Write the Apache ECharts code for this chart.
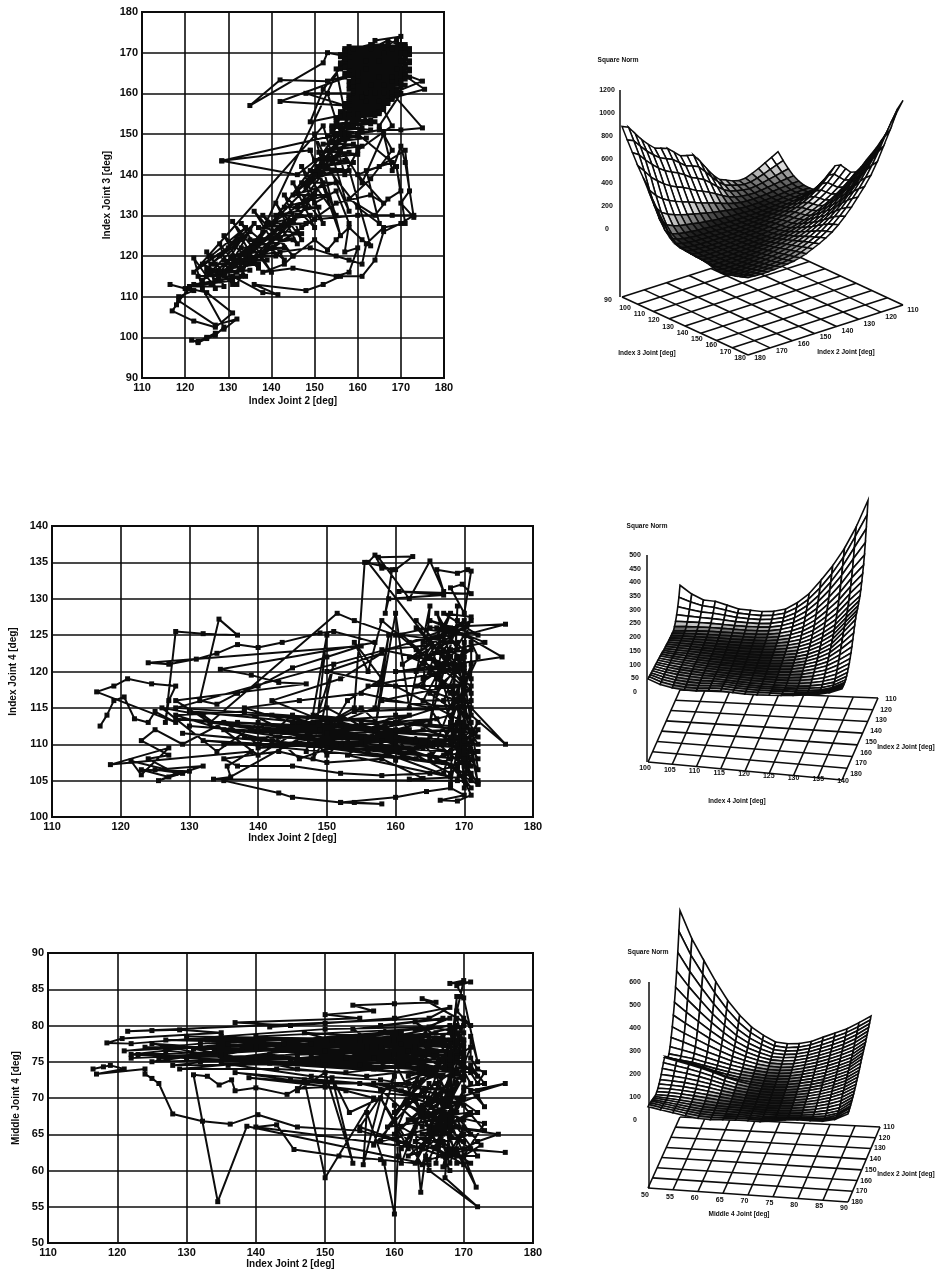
<!DOCTYPE html>
<html><head><meta charset="utf-8"><style>html,body{margin:0;padding:0;background:#fff}#c{width:936px;height:1271px}</style>
<script src="https://cdn.jsdelivr.net/npm/echarts@6/dist/echarts.min.js"></script></head><body><div id="c"></div><script>
const indexJ2VsJ3=[[116.5,113],[120,112],[122,111.5],[118.5,110],[118,108],[117,106.5],[122,104],[127,102.5],[131,106],[125,111],[121,112],[118.5,109],[127,103],[132,104.5],[129,102],[127,101],[125,100],[123,99],[121.5,99.3],[123,98.7],[125,99.7],[127,100.5],[129,102.5],[124,112],[122,119.5],[127,112],[125,121],[131,113],[128,123],[134,115],[129,125],[137,117],[131,128.5],[140,116],[133,128],[143,119],[136,131],[145,120],[138,130],[146,123],[141,133],[147,124],[143,135],[150,127],[145,138],[152,128],[147,142],[155,130],[149,146],[156,125],[150,150],[158,131],[152,152],[122,116],[135,126],[124,114],[137,124],[126,113],[140,125],[129,115],[142,127],[132,119],[146,130],[136,122],[150,135],[140,128],[154,143],[146,136],[157,150],[150,140],[160,155],[154,148],[162,160],[131,115],[138,111],[141.5,110.5],[136,113],[148,111.5],[152,113],[156,115],[161,115],[164,119],[166,126],[170,128],[173,130],[168,130],[160,130],[150,129],[147,127],[155,133],[163,135],[166,133],[160,140],[165,142],[171,146],[172,136],[170,133],[173,129.5],[171,143],[170,147],[168,141],[166,150],[161,138],[157,145],[163,122.5],[161,124],[158,127],[155,124],[153,121.5],[150,124],[145,120],[143,118],[138,116],[145,117],[155,115],[158,116],[160,122],[157,121],[158,128],[155,136],[150,133],[148,137],[152,143],[160,132],[165,128],[162,141],[168,143],[160,150],[165,151],[170,151],[175,151.5],[168,160],[175,163],[170,165],[175.5,161],[165,158],[168,152],[160,146],[157,140],[155,148],[158,155],[149,153],[152,161],[158,169],[153,170],[152,167.5],[135,157],[142,163.3],[153,163],[160,165],[142,158],[157,157],[148,160],[162,160],[153,160],[156,150],[128.5,143.4],[149,146],[128.5,143.4],[146,140],[158,150],[155,166],[171,172],[157,171],[171,171],[157,170],[172,170],[156,169],[171,169],[157,168],[172,168],[156,167],[171,167],[156,166],[172,166],[157,165],[171,165],[157,164],[172,164],[158,163],[170,163],[158,162],[171,162],[158,161],[169,161],[159,160],[168,160],[158,159],[168,159],[158,158],[167,158],[157,157],[166,157],[158,156],[166,156],[156,155],[165,155],[155,154],[164,153],[154,152],[163,151],[155,150],[162,149],[154,148],[161,147],[153,146],[160,145],[152,144],[159,143],[151,142],[158,141],[150,140],[164,173],[170,174],[170,172],[163,171],[167,173],[172,171],[166,170],[160,163],[162,168],[170,160],[165,152],[168,146],[163,139],[158,134],[164,130],[167,134],[170,136],[169,142],[171,128],[166,127],[162,123],[161,118],[158,119],[155,120],[149,122],[142,121],[135,120],[128,116],[124,118],[130,122],[126,118],[133,124],[127,114],[125,117],[132,113]];
const indexJ2VsJ3Dense=[[158,171.5],[171,171.5],[157,170.5],[172,170.5],[156,169.5],[172,169.5],[157,168.5],[171,168.5],[156,167.5],[172,167.5],[157,166.5],[171,166.5],[158,165.5],[172,165.5],[158,164.5],[171,164.5],[159,163.5],[171,163.5],[159,162.5],[170,162.5],[159,161.5],[170,161.5],[159,160.5],[169,160.5],[158,159.5],[169,159.5],[158,158.5],[168,158.5],[157,157.5],[167,157.5],[157,156.5],[166,156.5],[156,155.5],[165,155.5],[156,154.5],[164,154.5],[155,153.5],[163,153.5],[155,152.5],[163,152.5],[154,151.5],[161,151.5],[154,150.5],[161,150.5],[153,149.5],[160,149.5],[152,147.5],[159,147.5],[151,145.5],[158,145.5],[150,143.5],[157,143.5],[149,141],[156,141],[147,138],[155,138],[145,135],[153,135],[143,132],[151,132],[141,130],[149,130],[139,128],[148,128],[137,127],[147,125.5],[135,124],[145,124],[133,122],[143,122],[131,120],[141,120],[129,119],[139,119],[127,118],[137,118],[125,116],[135,116.5],[123,115],[133,115],[122,113],[131,114],[121,112.5],[129,112.5],[126,120],[134,127],[128,120],[136,128],[130,117],[138,126],[132,116],[140,122],[134,118],[144,128],[136,119],[146,126],[138,121],[148,132],[142,124],[152,138],[146,132],[156,146],[149,139],[159,152],[162,158],[155,144],[164,160],[160,150],[166,162],[164,155],[168,163],[170,170],[159,171],[163,172],[167,172],[169,173],[171,170],[165,168],[168,171],[162,166],[170,168],[165,164],[169,166],[163,162],[168,164],[161,159],[166,160]];
const indexJ2VsJ4=[[117,112.5],[118,114],[119,116],[120.5,116.5],[122,113.5],[124,113],[125,114.5],[128,113],[116.5,117.2],[119,118],[121,119],[124.5,118.3],[128,118],[127,116],[126.5,113],[128,125.5],[132,125.2],[137,125],[134.3,127.2],[131.5,116],[134,115.5],[137,117],[140,118],[145,120.5],[150,122],[155,123.5],[124,121.2],[127,121],[131,121.7],[134,122.5],[137,123.7],[140,123.3],[143.5,124],[149,125.3],[151,125.5],[157,124],[134.5,120.3],[139,119.5],[143,118.5],[147,118.3],[128,116],[133,113],[151.5,128],[154,127],[160,125],[165,126],[176,126.5],[170,125],[175.5,122],[165,120.5],[170,116],[176,110],[171,114],[171,124],[172,122],[170,118],[156,135],[157,136],[158,134.2],[160,134],[162.5,135.8],[157.5,135.7],[162,130],[165,135.2],[167,131],[166,134],[169,133.5],[170.5,134],[171,133.8],[170,128],[168,131.5],[169.7,132],[171,130.7],[160.5,131],[167,130.5],[159,130],[158.5,128],[159.5,134],[158,134.5],[155.5,135],[154,115],[135,105],[143,103.3],[145,102.7],[152,102],[154,102],[158,101.8],[152,102],[160,102.7],[164.5,103.5],[168,104],[170,103],[166.5,102.3],[169,102.2],[171,103],[170,105],[133.5,105.2],[136,105.5],[135.5,107],[139,109],[118.5,107.2],[127,109.5],[123,105.8],[121.5,107.7],[129,106],[125,106.5],[132,107],[127,105.5],[123,106.5],[130,106.3],[125.5,105],[128,106],[124,108],[127,108.5],[123,110.5],[125,112],[129,110],[135,113],[140,110],[145,114],[150,108.5],[155,113],[160,107.8],[165,111],[170,107],[172,112],[166,108],[160,114],[152,110],[146,108],[140,113],[134,109],[126,115],[132,114],[140,108.5],[148,113],[156,109],[163,113],[171,109],[168,106],[160,110],[150,115],[142,110.5],[135,112],[128,114],[138,114.5],[146,111],[155,115],[162,109],[170,111],[172,108],[165,106],[158,105.7],[152,106],[145,107],[137,107],[135,108],[143,109],[150,107.5],[158,108],[164,105.3],[162,105.2],[170,105.5],[172,104.5],[171,106],[165,115],[155,117],[146,116],[138,115],[145,113],[155,111],[164,112],[172,110],[170,113],[160,118],[150,120],[158,122.5],[152,119],[142,116],[150,113],[160,112],[168,114],[171,118],[163,123],[158,127],[156,120],[154,124],[158,119],[153,116],[148,108],[150,125],[147,109],[151,121],[149,112],[157,115],[159,125],[157,112],[160,128],[162,115],[165,129],[164,118],[168,128],[163,120],[167,125],[165,113],[169,127],[166,117],[170,122],[164,124],[171,127],[165,122],[169,120],[163,126],[170,125],[166,119],[168,123],[164,116],[171,116],[165,108],[170,120],[167,110],[171,121],[167,106],[170,117],[168,108],[169,129],[168,104.5],[170,114],[169,105],[170,124],[170,107],[169,118],[170,104],[171,112],[169,110],[171,107],[169,115],[171,105],[168,112],[172,106.5],[170,119],[169,122],[172,104.5],[171,109],[169,113],[172,111],[168,117],[171,127.5],[167,128],[172,125],[165,127],[173,124],[163,122],[170,126]];
const indexJ2VsJ4Dense=[[128,115],[168,112.5],[130,114.5],[169,111],[128,113.5],[166,110],[130,112.5],[170,109.5],[133,113],[165,108.5],[129,111.5],[169,108],[136,112],[160,109],[132,110.5],[167,107.5],[138,111],[163,110.5],[135,110],[170,110.5],[140,112],[162,112],[137,113],[168,110],[142,114],[160,111],[144,112],[166,113.5],[140,109.5],[158,110.5],[143,111],[164,109.5],[148,110],[168,109],[146,113],[162,114],[150,111.5],[170,112],[148,114],[165,110],[152,112.5],[169,107],[150,109.5],[163,108],[155,110],[168,105.5],[153,108.5],[160,113],[156,112],[166,115],[154,114.5],[170,115],[158,116],[168,118],[156,118],[170,120.5],[160,120],[168,121],[158,123],[169,124],[161,125],[167,120],[162,122],[171,123],[163,118],[169,116],[162,124],[168,126],[161,121],[170,127],[164,121],[167,118],[165,124],[171,119],[163,127],[168,122],[166,128],[169,123],[164,119],[170,121],[165,117],[168,115],[166,121],[171,117],[167,123],[169,125.5],[166,126],[170,123],[167,116],[170,108],[168,113],[171,110.5],[167,108.5],[172,109],[168,107],[171,104],[169,106.5],[172,105],[170,106],[171,108],[169,108.5],[172,113],[170,109],[169,112],[171,111.5],[170,112.5],[168,111],[171,113],[169,117],[171,115]];
const indexJ2VsMiddleJ4=[[116.5,74],[118,74.3],[119,74.5],[121,74],[117,73.3],[124,74],[124,73.3],[125,72.7],[126,72],[128,67.8],[132.3,66.8],[136.3,66.4],[140.3,67.7],[146,66],[155,65.5],[164,63],[140,66],[143,66.3],[145.5,62.9],[152,62],[158,61.5],[165,60.8],[138.7,66.1],[134.5,55.7],[131,73.2],[133,73],[134.7,71.8],[136.5,72.5],[137,71],[140,71.4],[144.5,70.5],[146,71.3],[150,71.5],[153,71],[157,70],[150,59],[147,72.5],[146,71],[150,73.5],[154,61],[151,72.8],[153.5,68],[158,70],[155.5,60.8],[156,68],[158.5,61],[160,54],[160.5,62],[160,69],[161,61],[163,66],[163.8,57],[164.5,62],[165,60],[172,55],[167.3,59],[168,67],[171.8,57.7],[169,63],[176,62.5],[170,63],[172,64],[175,65],[168,66],[173,65.5],[169,70],[176,72],[171,71],[173,68.8],[172,70.3],[166,68],[173,66.5],[170,62],[172.5,63.5],[165,72],[162,63],[158,70],[164,60.8],[168,72],[161,66],[170,60.8],[164,71],[157,63.5],[160,73],[155,66],[167,62],[172,62],[166,70],[160,65],[164,74],[158,64],[170,67],[163,70],[168,60],[160,75],[171,73.5],[172,72],[173,73.5],[172,74],[171,75.5],[171,78.5],[172,75],[170,83.8],[169,85.5],[171,86],[168,85.8],[170,86.2],[169.5,84],[169,82],[171,80],[164,83.7],[166,83.2],[160,83],[154,82.8],[157,82],[150,81.5],[155,81],[137,80.4],[145,80],[142,79.8],[150,80.3],[160,81],[168,82.5],[165,81],[121.5,79.2],[125,79.3],[129,79.4],[135,79],[120.7,78.2],[118.5,77.6],[122,77.5],[135,78.5],[150,79.5],[165,79.8],[170,79],[121,76.5],[132,77.5],[145,78],[158,79],[170,78],[122,75.5],[135,76],[148,77.5],[160,78],[169,76],[125,75],[140,77],[152,76],[163,77],[170,75],[128,74.5],[142,76],[155,74.5],[165,76],[171,74],[130,75.5],[145,75],[157,75.5],[167,75],[125,77.5],[138,75],[150,74.5],[160,76],[170,73],[122,76],[136,77.5],[148,76],[155,78],[169,77.5],[129,74],[143,74],[153,73.5],[162,74.5],[168,73],[127,76.5],[140,75.5],[150,76.5],[158,77],[170,76.5],[131,76.8],[146,74],[156,73],[165,74],[135,74.8],[148,73],[158,72.5],[168,71],[137,73.5],[145,72.5],[155,72],[165,70],[139,72.8],[150,72],[162,72],[170,69],[157,72],[164,66],[168,76],[160,68],[169,74],[161,63],[170,78],[163,61],[169,72],[166,61],[169,80],[167,65],[170,71],[165,64],[168,78],[164,68],[169,68],[162,62],[170,65],[166,74],[168,63],[171,61],[169,61],[167,69],[170,74.5],[163,72],[171,77],[166,65],[170,81],[168,69],[169,84],[168,75]];
const indexJ2VsMiddleJ4Dense=[[123,76],[168,77.5],[124,77],[169,76.5],[126,75.5],[167,78.5],[127,78],[170,77],[130,78.5],[165,78],[128,77],[168,76],[132,75],[166,79],[134,76.5],[169,78],[133,78],[164,75.5],[136,74.5],[170,75.5],[138,77],[163,79.5],[140,78.5],[168,74],[142,74.8],[162,76.5],[144,77.5],[168,80],[146,76],[164,78],[147,79],[169,73.5],[149,75],[161,79],[151,78],[166,76.5],[153,75.5],[168,81],[154,79.5],[163,74],[156,77],[170,80],[157,74],[166,73],[158,80],[167,81],[159,75],[170,72.5],[161,77.5],[168,74.5],[162,73],[170,76],[163,80.5],[169,75],[158,71],[164,72.5],[159,66],[166,67],[161,71],[168,65],[162,67],[171,68],[163,64],[168,62],[164,69],[170,64],[165,66],[167,71],[164,63],[169,66],[162,69],[171,63],[165,61.5],[168,68],[166,63],[170,70],[163,67],[168,70.5],[165,69],[171,65],[167,64],[169,62],[164,65],[172,68],[166,72],[169,69],[167,60.5],[170,66],[168,61],[166,66],[170,73],[168,79],[169,81],[170,77.5],[169,79],[170,74],[168,77],[171,72],[169,75.5],[172,73],[171,74.5],[173,72],[170,71.5],[172,71]];
const normJ2J3=[
[236,180,130,90,65,50,48,55,100,190,270,345,372,360,350,375,440,520,595,674,760,850,950,1090,1180],
[205,160,118,85,62,50,48,52,85,150,215,280,310,305,300,325,385,460,530,600,680,770,870,990,1090],
[175,140,105,78,58,46,44,48,72,120,170,225,255,255,255,280,335,400,465,530,605,690,780,880,960],
[145,118,92,70,54,42,40,42,60,95,135,180,208,212,215,240,290,345,405,465,535,610,690,770,840],
[120,100,80,62,48,38,36,38,50,78,108,145,170,176,182,205,250,300,352,405,470,540,610,670,720],
[98,85,70,55,42,33,30,32,42,62,86,115,138,146,152,175,215,258,305,352,410,470,530,580,620],
[95,82,66,50,38,28,25,26,34,50,68,92,112,120,128,148,184,222,262,305,355,410,460,505,540],
[110,92,72,52,36,25,20,20,28,40,55,74,90,98,106,125,156,190,226,262,308,355,400,438,470],
[135,110,84,58,38,24,16,16,22,32,44,58,72,80,88,105,132,162,194,226,266,306,345,375,400],
[158,130,98,68,42,25,14,12,16,25,35,46,58,65,72,88,112,138,165,194,228,262,295,320,340],
[215,175,130,88,54,30,15,10,12,18,27,36,46,52,58,72,94,116,140,165,195,222,250,270,285],
[290,235,175,118,70,38,18,10,9,13,20,28,36,42,47,60,78,98,118,140,164,188,210,227,240],
[370,300,225,150,90,48,22,10,7,9,15,22,28,33,38,48,64,82,100,118,138,158,175,192,205],
[440,360,270,182,110,58,26,11,6,6,10,16,21,26,30,38,52,68,84,100,116,132,148,162,175],
[455,385,300,208,128,68,30,13,6,4,7,11,16,20,24,30,42,55,70,84,97,110,125,138,150],
[470,405,325,232,145,80,36,15,7,3,4,8,12,15,18,24,34,45,57,70,80,92,104,115,125],
[520,450,365,265,168,94,44,19,9,4,3,5,8,11,14,18,27,36,46,57,66,76,86,97,108],
[570,495,400,295,190,108,52,24,11,5,3,3,5,8,10,14,20,28,37,46,55,64,74,84,95],
[590,520,425,318,210,122,62,28,14,7,3,2,3,5,7,10,15,21,29,37,46,55,65,75,88],
[610,545,455,345,232,138,72,34,17,9,5,2,2,3,5,7,11,16,22,30,38,48,58,70,82],
[660,590,495,380,258,155,82,42,22,12,7,4,2,2,3,5,8,12,17,24,32,42,53,66,78],
[720,640,545,425,290,178,100,52,30,18,10,6,3,2,2,3,6,9,13,19,27,37,50,63,75],
[790,700,600,475,335,212,125,70,42,26,16,10,6,3,2,2,4,6,10,15,23,33,47,62,75],
[860,765,665,545,400,280,185,115,70,45,30,22,16,11,8,6,6,6,9,13,21,33,46,62,78],
[885,790,700,610,530,440,365,290,220,150,85,68,65,62,58,55,45,35,20,18,25,38,50,65,80]];
const normJ2J4=[
[130,100,80,77,65,53,50,47,50,60,85,120,170,225,290,370,468],
[95,80,68,64,56,47,44,42,45,54,76,108,152,205,268,345,425],
[70,62,55,52,47,41,38,37,40,48,67,96,136,186,245,315,385],
[50,47,44,42,39,35,33,32,35,43,59,85,122,168,222,285,345],
[35,35,35,34,32,30,29,29,31,38,52,75,108,150,200,258,310],
[25,27,28,28,27,26,25,25,27,34,46,66,96,135,180,235,283],
[18,21,23,24,23,23,22,22,24,30,41,58,85,122,163,215,262],
[19,20,21,21,21,21,20,20,22,27,37,52,76,110,148,198,243],
[19,20,20,20,20,19,19,19,20,25,33,47,68,99,135,183,225],
[20,20,20,20,19,18,18,18,19,23,30,42,62,90,123,170,212],
[21,21,20,19,18,18,17,17,18,22,28,38,56,82,113,160,205],
[22,21,20,19,18,17,17,17,17,20,26,35,51,75,105,152,198],
[24,22,21,19,18,17,16,16,17,19,24,32,47,69,98,145,192],
[25,23,21,20,18,17,16,16,16,18,23,30,43,63,91,138,188],
[26,24,22,20,18,17,16,16,16,18,22,28,40,58,84,130,178],
[28,25,23,20,19,17,17,16,16,18,21,27,37,54,78,120,165],
[31,27,24,21,19,18,17,16,16,17,20,25,35,50,72,108,150],
[33,28,25,22,20,18,17,17,16,17,20,24,33,46,66,98,135],
[35,30,26,23,20,19,18,17,17,17,19,23,31,43,60,88,120],
[36,31,27,24,21,19,18,18,17,17,19,22,29,40,55,79,108],
[38,32,28,25,22,20,19,18,18,18,19,22,27,37,50,71,98],
[39,33,28,25,23,21,20,19,19,18,19,21,26,34,46,64,90],
[41,34,29,26,23,22,21,20,19,19,20,21,25,32,42,58,84],
[42,34,29,26,24,24,23,21,20,20,20,21,24,30,39,53,78],
[43,35,29,26,24,25,24,22,21,21,21,22,24,29,37,50,74],
[45,35,28,25,24,26,26,24,23,22,23,24,26,30,36,49,72],
[46,35,28,25,24,27,28,26,25,25,26,27,29,32,38,50,73],
[48,35,28,24,24,28,30,28,27,27,29,31,33,36,42,54,75],
[50,35,27,24,24,29,31,29,28,29,31,33,36,41,47,58,78],
[51,35,27,24,24,30,32,30,29,30,33,36,40,46,52,63,81]];
const normJ2M4=[
[600,480,389,300,221,160,111,78,52,47,51,62,84,105,126,155,186],
[520,420,340,262,195,140,98,68,46,41,46,58,78,98,120,148,180],
[440,360,290,225,168,120,85,60,40,37,42,54,72,92,114,142,175],
[370,305,248,192,145,104,74,52,36,33,38,50,68,87,108,136,170],
[310,258,210,165,125,90,64,46,32,30,35,47,64,82,103,130,165],
[255,215,178,140,107,78,56,40,29,27,32,44,60,78,98,124,160],
[210,178,148,118,91,67,49,35,26,24,29,41,56,74,94,118,155],
[170,145,122,98,76,57,42,30,23,21,26,38,52,70,90,113,150],
[135,118,100,81,64,48,36,26,20,19,24,35,48,66,86,108,147],
[105,94,82,68,54,41,31,23,18,17,22,32,45,62,82,104,144],
[85,78,70,58,47,36,27,21,16,15,20,30,42,58,78,100,140],
[78,72,65,54,43,33,25,19,15,14,19,28,40,55,75,97,137],
[90,80,70,58,44,32,23,18,14,13,17,26,37,52,72,94,133],
[105,93,80,66,50,34,24,17,13,12,16,24,35,49,69,91,128],
[112,100,88,75,60,42,28,18,13,12,15,23,33,47,66,88,122],
[100,90,80,68,54,38,26,17,12,11,14,21,31,45,63,85,118],
[85,78,70,60,48,34,23,16,12,10,13,20,30,43,60,82,115],
[70,66,60,52,42,30,21,15,11,10,12,19,28,41,58,79,111],
[58,56,52,45,37,27,19,14,11,9,12,18,27,39,55,76,107],
[50,48,45,39,32,24,18,13,10,9,11,17,25,37,52,73,103],
[42,42,39,34,28,22,16,12,10,9,11,16,24,35,50,70,100],
[38,38,35,30,25,19,15,12,10,9,11,16,23,33,47,66,97],
[35,35,32,27,22,17,14,12,11,10,11,15,22,31,44,62,94],
[38,34,30,25,20,16,14,13,12,11,12,15,21,29,41,58,92],
[42,37,31,25,19,16,15,14,13,12,13,16,21,28,38,54,90],
[46,39,32,25,19,17,16,15,15,14,15,18,22,28,37,52,89],
[50,42,34,26,20,17,17,17,17,16,18,21,25,30,37,52,88],
[53,44,36,28,21,18,19,20,20,19,22,27,30,34,39,54,88],
[56,46,38,29,22,19,21,23,24,23,28,34,38,40,43,56,87],
[58,48,39,30,22,20,24,26,27,27,34,42,46,46,48,60,87]];
const j2Ticks=[110,120,130,140,150,160,170,180];
const j3Ticks=[100,110,120,130,140,150,160,170,180];
const j4Ticks=[100,105,110,115,120,125,130,135,140];
const m4Ticks=[50,55,60,65,70,75,80,85,90];
const zTicksA=[0,200,400,600,800,1000,1200];
const zTicksB=[0,50,100,150,200,250,300,350,400,450,500];
const zTicksC=[0,100,200,300,400,500,600];

const INK='#0c0c0c',FONT='"Liberation Sans",Arial,sans-serif';
const plots=[
 {box:[142,12,302,366],ymin:90,ymax:180,yi:10,yname:'Index Joint 3 [deg]',data:[...indexJ2VsJ3,...indexJ2VsJ3Dense],nameGapY:30,nameGapX:18},
 {box:[52,526,481,291],ymin:100,ymax:140,yi:5,yname:'Index Joint 4 [deg]',data:[...indexJ2VsJ4,...indexJ2VsJ4Dense],nameGapY:28,nameGapX:13},
 {box:[48,953,485,290],ymin:50,ymax:90,yi:5,yname:'Middle Joint 4 [deg]',data:[...indexJ2VsMiddleJ4,...indexJ2VsMiddleJ4Dense],nameGapY:24,nameGapX:15}];
const grid=[],xAxis=[],yAxis=[],series=[];
plots.forEach((p,i)=>{
 grid.push({left:p.box[0],top:p.box[1],width:p.box[2],height:p.box[3],show:true,borderColor:INK,borderWidth:2,backgroundColor:'#fff'});
 const line={lineStyle:{color:INK,width:1.6}};
 const label={color:INK,fontFamily:FONT,fontWeight:'bold',fontSize:11,margin:4};
 xAxis.push({gridIndex:i,type:'value',min:110,max:180,interval:10,name:'Index Joint 2 [deg]',nameLocation:'middle',nameGap:p.nameGapX,
  nameTextStyle:{color:INK,fontFamily:FONT,fontWeight:'bold',fontSize:10},axisLine:{show:false},axisTick:{show:false},axisLabel:label,splitLine:{show:true,...line}});
 yAxis.push({gridIndex:i,type:'value',min:p.ymin,max:p.ymax,interval:p.yi,name:p.yname,nameLocation:'middle',nameGap:p.nameGapY,
  nameTextStyle:{color:INK,fontFamily:FONT,fontWeight:'bold',fontSize:10},axisLine:{show:false},axisTick:{show:false},axisLabel:label,splitLine:{show:true,...line}});
 series.push({type:'line',xAxisIndex:i,yAxisIndex:i,data:p.data,symbol:'rect',symbolSize:5,showSymbol:true,showAllSymbols:true,
  lineStyle:{color:INK,width:2},itemStyle:{color:INK},animation:false,silent:true,z:5});
});
// full-page hidden pixel scale that carries the three projected surfaces
const OV=3;
grid.push({left:0,top:0,width:936,height:1271,show:false});
xAxis.push({gridIndex:OV,type:'value',min:0,max:936,show:false});
yAxis.push({gridIndex:OV,type:'value',min:0,max:1271,inverse:true,show:false});

const panels=[
 {m:normJ2J3,a:[778,247],b:[903,305],c:[622,297],d:[748,355],sb:[903,305],sd:[748,355],zk:139/1200,zo:68,nr:7,nc:8,lw:1.5,dark:[25,170],
  axis:[[620,90],[620,297]],zt:zTicksA,zy0:229,zyTop:90,zx:607,title:[618,60],
  name1:['Index 3 Joint [deg]',647,353],name2:['Index 2 Joint [deg]',846,352],
  run1:[j3Ticks,[625,308],[740,358]],run2:[j2Ticks.slice().reverse(),[760,358],[913,310]],extra:['90',608,300]},
 {m:normJ2J4,a:[680,690],b:[878,698],c:[648,762],d:[842,780],sb:[868,698],sd:[842,780],zk:.275,zo:69,nr:7,nc:8,lw:1.6,dark:[17,36],
  axis:[[647,555],[647,762]],zt:zTicksB,zy0:692,zyTop:555,zx:635,title:[647,526],
  name1:['Index 4 Joint [deg]',737,801],name2:['Index 2 Joint [deg]',906,747],
  run1:[j4Ticks,[645,768],[843,781]],run2:[j2Ticks,[891,699],[856,774]]},
 {m:normJ2M4,a:[680,1117],b:[880,1127],c:[648,1188],d:[848,1202],sb:[871,1127],sd:[848,1202],zk:.2307,zo:68,nr:7,nc:8,lw:1.6,dark:[12,32],
  axis:[[649,982],[649,1188]],zt:zTicksC,zy0:1120,zyTop:982,zx:635,title:[648,952],
  name1:['Middle 4 Joint [deg]',739,1214],name2:['Index 2 Joint [deg]',906,1174],
  run1:[m4Ticks,[645,1195],[844,1208]],run2:[j2Ticks,[889,1127],[857,1202]]}];
const lerp=(p,q,t)=>[p[0]+(q[0]-p[0])*t,p[1]+(q[1]-p[1])*t];
const corner=(a,b,c,d,fr,fc)=>lerp(lerp(a,b,fc),lerp(c,d,fc),fr);
const graphic=[];
const txt=(s,x,y,size,align)=>graphic.push({type:'text',x,y,silent:true,style:{text:String(s),fill:INK,font:`bold ${size}px ${FONT}`,textAlign:align||'center',textVerticalAlign:'middle'}});
panels.forEach(p=>{
 const R=p.m.length-1,C=p.m[0].length-1;
 const base=[];
 for(let i=0;i<=p.nr;i++)base.push([i/p.nr,0,i/p.nr,1]);
 for(let j=0;j<=p.nc;j++)base.push([0,j/p.nc,1,j/p.nc]);
 series.push({type:'custom',xAxisIndex:OV,yAxisIndex:OV,coordinateSystem:'cartesian2d',clip:false,animation:false,silent:true,z:2,progressive:0,data:base,
  renderItem:(_,api)=>{const s=corner(p.a,p.b,p.c,p.d,api.value(0),api.value(1)),e=corner(p.a,p.b,p.c,p.d,api.value(2),api.value(3));
   const A=api.coord(s),B=api.coord(e);return {type:'line',shape:{x1:A[0],y1:A[1],x2:B[0],y2:B[1]},style:{stroke:INK,lineWidth:1.6}};}});
 series.push({type:'line',xAxisIndex:OV,yAxisIndex:OV,data:p.axis,symbol:'none',lineStyle:{color:INK,width:1.5},animation:false,silent:true,z:2});
 const cells=[];
 for(let r=0;r<R;r++)for(let c=0;c<C;c++)cells.push([r,c]);
 const pt=(r,c)=>{const q=corner(p.a,p.sb,p.c,p.sd,r/R,c/C);return [q[0],q[1]-p.zo-p.m[r][c]*p.zk];};
 const shade=(r,c)=>{const z=(p.m[r][c]+p.m[r][c+1]+p.m[r+1][c]+p.m[r+1][c+1])/4;
  const t=Math.max(0,Math.min(1,(z-p.dark[0])/(p.dark[1]-p.dark[0])));const g=Math.round(30+225*t);return `rgb(${g},${g},${g})`;};
 series.push({type:'custom',xAxisIndex:OV,yAxisIndex:OV,coordinateSystem:'cartesian2d',clip:false,animation:false,silent:true,z:3,progressive:0,data:cells,
  renderItem:(_,api)=>{const r=api.value(0),c=api.value(1);
   return {type:'polygon',shape:{points:[pt(r,c),pt(r,c+1),pt(r+1,c+1),pt(r+1,c)].map(v=>api.coord(v))},style:{fill:shade(r,c),stroke:INK,lineWidth:p.lw}};}});
 p.zt.forEach((t,i)=>{const y=p.zy0+(p.zyTop-p.zy0)*i/(p.zt.length-1);txt(t,p.zx,y,7);});
 txt('Square Norm',p.title[0],p.title[1],6.5);
 txt(p.name1[0],p.name1[1],p.name1[2],6.5);txt(p.name2[0],p.name2[1],p.name2[2],6.5);
 [p.run1,p.run2].forEach(([lab,f,t])=>lab.forEach((v,i)=>{const q=lerp(f,t,i/(lab.length-1));txt(v,q[0],q[1],7);}));
 if(p.extra)txt(p.extra[0],p.extra[1],p.extra[2],7);
});
const chart=echarts.init(document.getElementById('c'),null,{renderer:'canvas',width:936,height:1271});
chart.setOption({animation:false,backgroundColor:'#fff',grid,xAxis,yAxis,series,graphic:{elements:graphic},tooltip:{show:false}});
</script></body></html>
